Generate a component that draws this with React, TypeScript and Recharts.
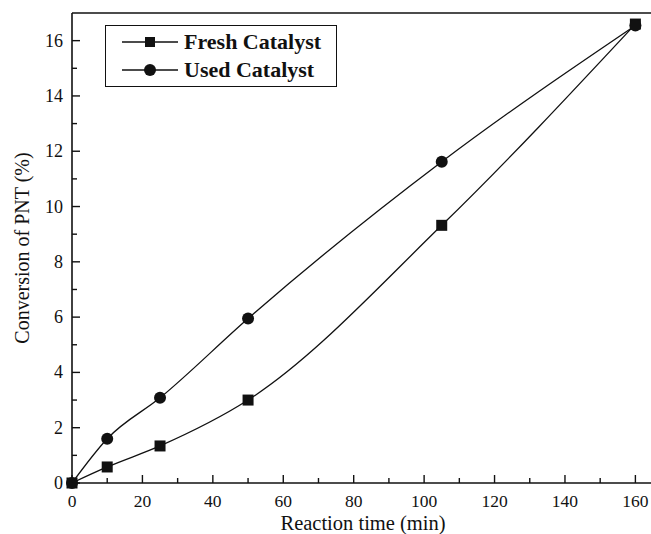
import React from "react";
import { LineChart, Line, XAxis, YAxis, Label } from "recharts";

const times = [0, 10, 25, 50, 105, 160];
const freshValues = [0, 0.58, 1.34, 3.0, 9.32, 16.6];
const usedValues = [0, 1.6, 3.08, 5.95, 11.62, 16.55];

const xTicks = [0, 10, 20, 30, 40, 50, 60, 70, 80, 90, 100, 110, 120, 130, 140, 150, 160];
const yTicks = [0, 1, 2, 3, 4, 5, 6, 7, 8, 9, 10, 11, 12, 13, 14, 15, 16];

const data = times.map((t, i) => ({
  time: t,
  fresh: freshValues[i],
  used: usedValues[i],
}));

const FONT = '"Liberation Serif", "Times New Roman", serif';
const INK = "#111";

function XTick({ x, y, payload }: any) {
  const major = payload.value % 20 === 0;
  return (
    <g>
      <line x1={x} y1={y} x2={x} y2={y - (major ? 8 : 5)} stroke={INK} strokeWidth={1.4} />
      {major && (
        <text x={x} y={y + 24} textAnchor="middle" fontFamily={FONT} fontSize={17.5} fill={INK}>
          {payload.value}
        </text>
      )}
    </g>
  );
}

function YTick({ x, y, payload }: any) {
  const major = payload.value % 2 === 0;
  return (
    <g>
      <line x1={x} y1={y} x2={x + (major ? 8 : 5)} y2={y} stroke={INK} strokeWidth={1.4} />
      {major && (
        <text x={x - 9} y={y + 6} textAnchor="end" fontFamily={FONT} fontSize={18} fill={INK}>
          {payload.value}
        </text>
      )}
    </g>
  );
}

function SquareDot({ cx, cy }: any) {
  if (cx == null || cy == null) return null;
  return <rect x={cx - 5.5} y={cy - 5.5} width={11} height={11} fill={INK} />;
}

function CircleDot({ cx, cy }: any) {
  if (cx == null || cy == null) return null;
  return <circle cx={cx} cy={cy} r={6} fill={INK} />;
}

function YTitle({ viewBox }: any) {
  const cx = 22;
  const cy = viewBox.y + viewBox.height / 2;
  return (
    <text
      x={cx}
      y={cy}
      transform={`rotate(-90 ${cx} ${cy})`}
      textAnchor="middle"
      dominantBaseline="central"
      fontFamily={FONT}
      fontSize={20}
      fill={INK}
    >
      Conversion of PNT (%)
    </text>
  );
}

function XTitle({ viewBox }: any) {
  const cx = viewBox.x + 291;
  return (
    <text x={cx} y={530} textAnchor="middle" fontFamily={FONT} fontSize={20.5} fill={INK}>
      Reaction time (min)
    </text>
  );
}

function LegendBox() {
  const row = (label: string, square: boolean) => (
    <div style={{ display: "flex", alignItems: "center", height: 28 }}>
      <svg width={60} height={14} style={{ marginLeft: 14 }}>
        <line x1={2} y1={7} x2={58} y2={7} stroke={INK} strokeWidth={1.3} />
        {square ? <rect x={25} y={2} width={10} height={10} fill={INK} /> : <circle cx={30} cy={7} r={6} fill={INK} />}
      </svg>
      <span style={{ fontFamily: FONT, fontWeight: "bold", fontSize: 22, color: INK, marginLeft: 4 }}>{label}</span>
    </div>
  );
  return (
    <div
      style={{
        position: "absolute",
        left: 105,
        top: 25,
        width: 232,
        height: 62,
        border: `1.4px solid ${INK}`,
        boxSizing: "border-box",
        background: "#fff",
        paddingTop: 2,
      }}
    >
      {row("Fresh Catalyst", true)}
      {row("Used Catalyst", false)}
    </div>
  );
}

export default function App() {
  return (
    <div style={{ position: "absolute", left: 0, top: 0, width: 651, height: 534, overflow: "hidden", background: "#fff" }}>
      <LineChart width={660} height={534} data={data} margin={{ top: 12, right: 7, left: 71, bottom: 50 }}>
        <XAxis
          dataKey="time"
          type="number"
          domain={[0, 165]}
          ticks={xTicks}
          interval={0}
          height={1}
          tickSize={0}
          tickMargin={0}
          tickLine={false}
          axisLine={{ stroke: INK, strokeWidth: 1.6 }}
          tick={<XTick />}
        >
          <Label content={<XTitle />} />
        </XAxis>
        <XAxis
          xAxisId="top"
          orientation="top"
          type="number"
          domain={[0, 165]}
          height={1}
          tick={false}
          tickLine={false}
          axisLine={{ stroke: INK, strokeWidth: 1.6 }}
        />
        <YAxis
          type="number"
          domain={[0, 17]}
          ticks={yTicks}
          interval={0}
          width={1}
          tickSize={0}
          tickMargin={0}
          tickLine={false}
          axisLine={{ stroke: INK, strokeWidth: 1.6 }}
          tick={<YTick />}
        >
          <Label content={<YTitle />} />
        </YAxis>
        <Line
          type="monotone"
          dataKey="fresh"
          stroke={INK}
          strokeWidth={1.3}
          dot={<SquareDot />}
          activeDot={false}
          isAnimationActive={false}
        />
        <Line
          type="monotone"
          dataKey="used"
          stroke={INK}
          strokeWidth={1.3}
          dot={<CircleDot />}
          activeDot={false}
          isAnimationActive={false}
        />
      </LineChart>
      <LegendBox />
    </div>
  );
}
